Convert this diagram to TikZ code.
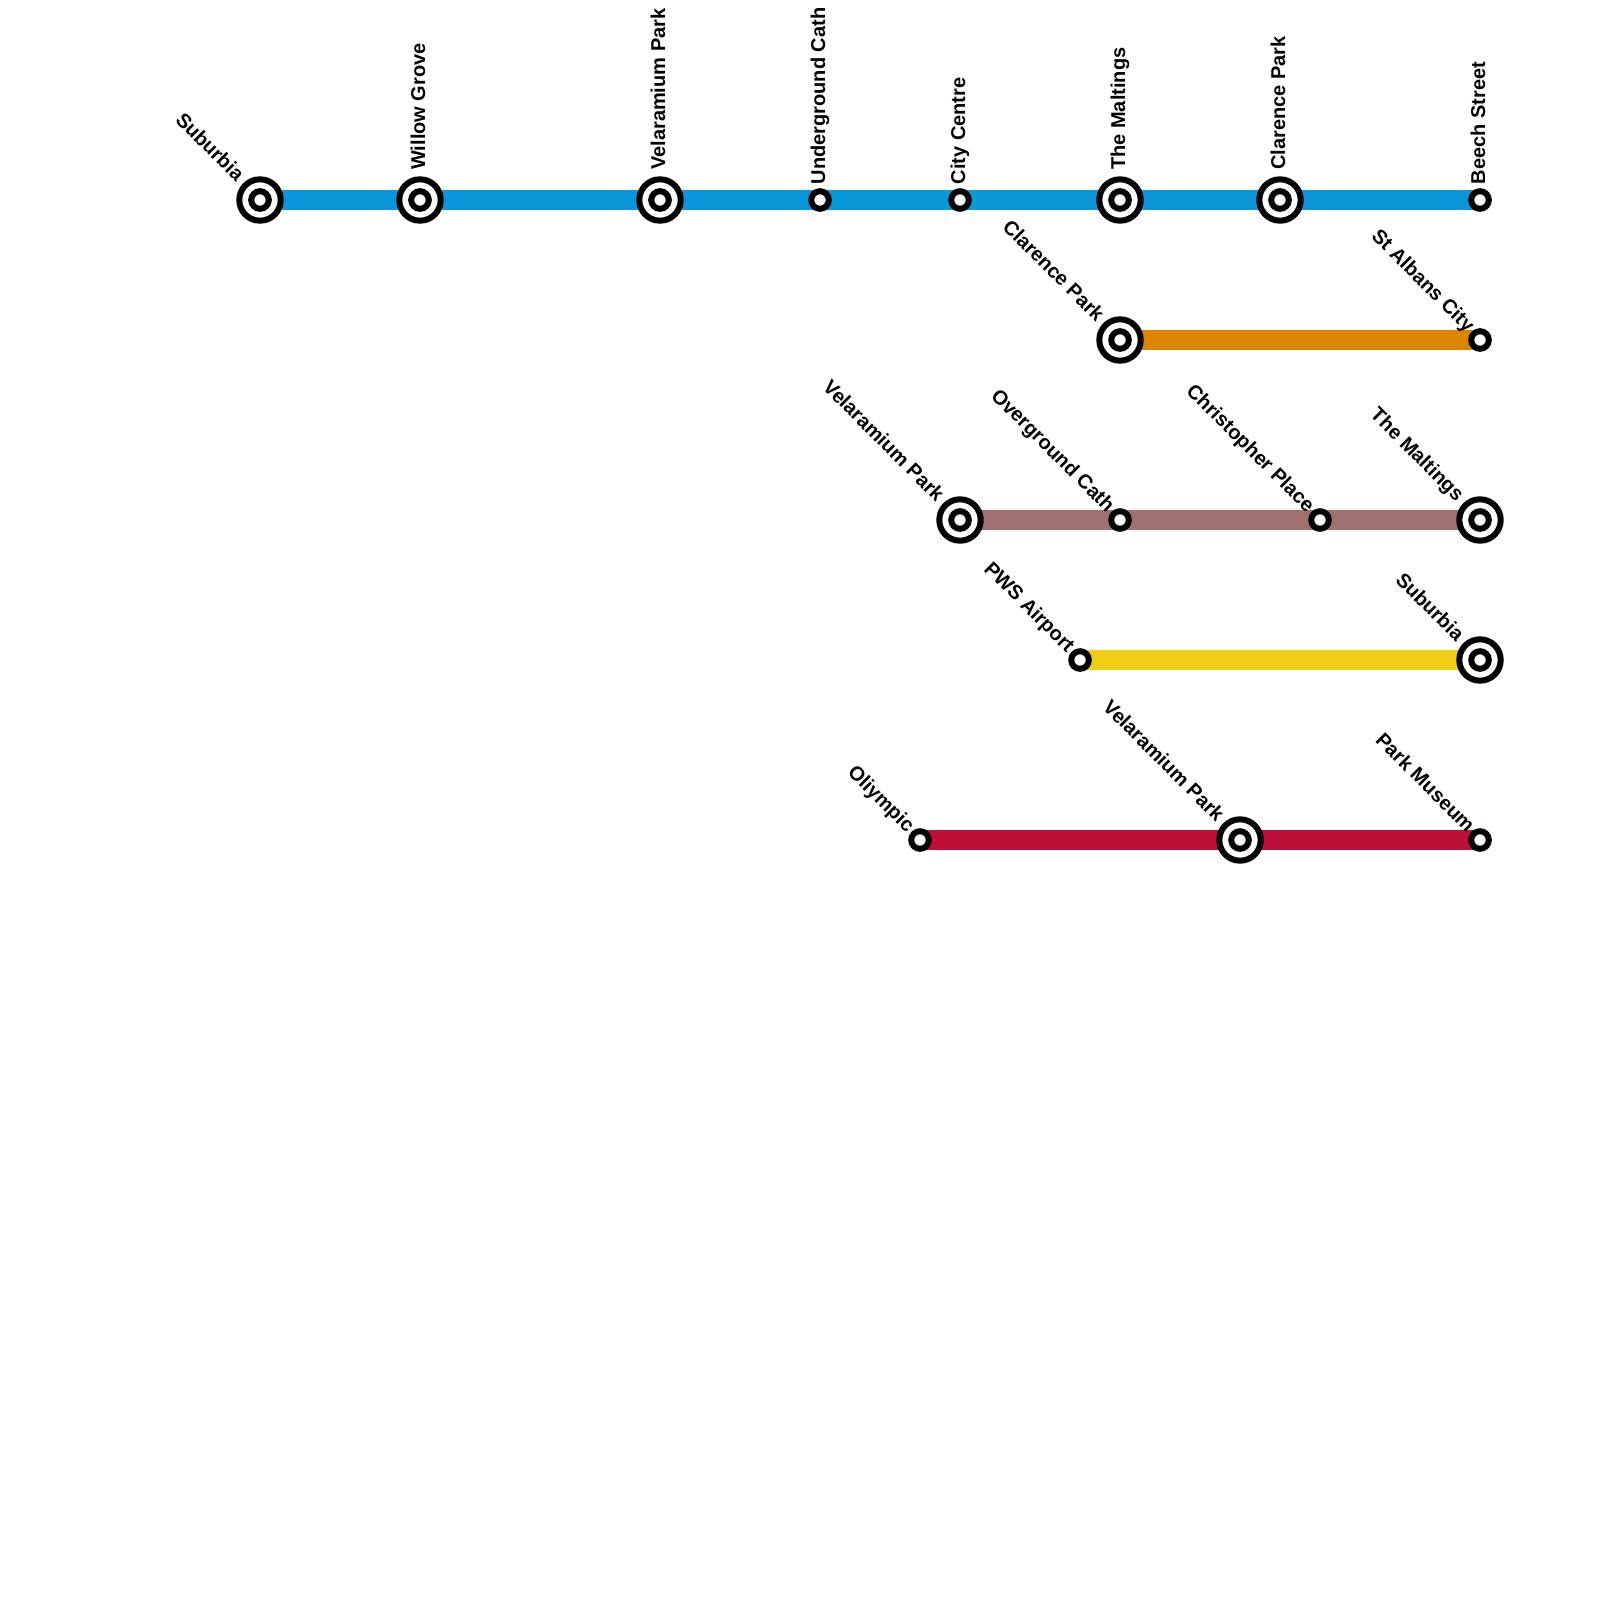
\documentclass[tikz,border=0pt]{standalone}
\usepackage{fontspec}
\setmainfont{Liberation Sans}
\usetikzlibrary{backgrounds}
\definecolor{lblue}{HTML}{0A96D9}
\definecolor{lorange}{HTML}{DE8500}
\definecolor{lbrown}{HTML}{A07070}
\definecolor{lyellow}{HTML}{F0CE15}
\definecolor{lred}{HTML}{BC1038}
\tikzset{
  x=1pt,y=-1pt,
  smallst/.style={circle,draw=black,fill=white,line width=6pt,minimum size=17.6pt,inner sep=0pt},
  bigst/.style={circle,draw=black,fill=white,line width=6pt,minimum size=41.4pt,inner sep=0pt,
    path picture={\draw[line width=6pt] (path picture bounding box.center) circle (8.8pt);}},
  upbig/.style={font=\bfseries\fontsize{20}{24}\selectfont,rotate=90,anchor=base west,inner sep=0pt,xshift=30pt,yshift=-5pt},
  upsmall/.style={font=\bfseries\fontsize{20}{24}\selectfont,rotate=90,anchor=base west,inner sep=0pt,xshift=15.5pt,yshift=-5pt},
  diagbig/.style={font=\bfseries\fontsize{20}{24}\selectfont,rotate=-45,anchor=base east,inner sep=0pt,xshift=-29.3pt,yshift=-4.6pt},
  diagsmall/.style={font=\bfseries\fontsize{20}{24}\selectfont,rotate=-45,anchor=base east,inner sep=0pt,xshift=-14.1pt,yshift=-4.8pt},
  metro/.style={line width=20pt}
}
\begin{document}
\begin{tikzpicture}
\useasboundingbox (0,0) rectangle (1600,1600);
% blue
\node[bigst] (a1) at (260,200) {};
\node[bigst] (a2) at (420,200) {};
\node[bigst] (a3) at (660,200) {};
\node[smallst] (a4) at (820,200) {};
\node[smallst] (a5) at (960,200) {};
\node[bigst] (a6) at (1120,200) {};
\node[bigst] (a7) at (1280,200) {};
\node[smallst] (a8) at (1480,200) {};
% orange
\node[bigst] (b1) at (1120,340) {};
\node[smallst] (b2) at (1480,340) {};
% brown
\node[bigst] (c1) at (960,520) {};
\node[smallst] (c2) at (1120,520) {};
\node[smallst] (c3) at (1320,520) {};
\node[bigst] (c4) at (1480,520) {};
% yellow
\node[smallst] (d1) at (1080,660) {};
\node[bigst] (d2) at (1480,660) {};
% red
\node[smallst] (e1) at (920,840) {};
\node[bigst] (e2) at (1240,840) {};
\node[smallst] (e3) at (1480,840) {};
\begin{scope}[on background layer]
\draw[metro,lblue] (a1.center) -- (a2.center) -- (a3.center) -- (a4.center) -- (a5.center) -- (a6.center) -- (a7.center) -- (a8.center);
\draw[metro,lorange] (b1.center) -- (b2.center);
\draw[metro,lbrown] (c1.center) -- (c2.center) -- (c3.center) -- (c4.center);
\draw[metro,lyellow] (d1.center) -- (d2.center);
\draw[metro,lred] (e1.center) -- (e2.center) -- (e3.center);
\end{scope}
\node[diagbig] (ta1) at (a1.center) {Suburbia};
\node[upbig] (ta2) at (a2.center) {Willow Grove};
\node[upbig] (ta3) at (a3.center) {Velaramium Park};
\node[upsmall] (ta4) at (a4.center) {Underground Cath};
\node[upsmall] (ta5) at (a5.center) {City Centre};
\node[upbig] (ta6) at (a6.center) {The Maltings};
\node[upbig] (ta7) at (a7.center) {Clarence Park};
\node[upsmall] (ta8) at (a8.center) {Beech Street};
\node[diagbig] (tb1) at (b1.center) {Clarence Park};
\node[diagsmall] (tb2) at (b2.center) {St Albans City};
\node[diagbig] (tc1) at (c1.center) {Velaramium Park};
\node[diagsmall] (tc2) at (c2.center) {Overground Cath};
\node[diagsmall] (tc3) at (c3.center) {Christopher Place};
\node[diagbig] (tc4) at (c4.center) {The Maltings};
\node[diagsmall] (td1) at (d1.center) {PWS Airport};
\node[diagbig] (td2) at (d2.center) {Suburbia};
\node[diagsmall] (te1) at (e1.center) {Oliympic};
\node[diagbig] (te2) at (e2.center) {Velaramium Park};
\node[diagsmall] (te3) at (e3.center) {Park Museum};
\end{tikzpicture}
\end{document}
